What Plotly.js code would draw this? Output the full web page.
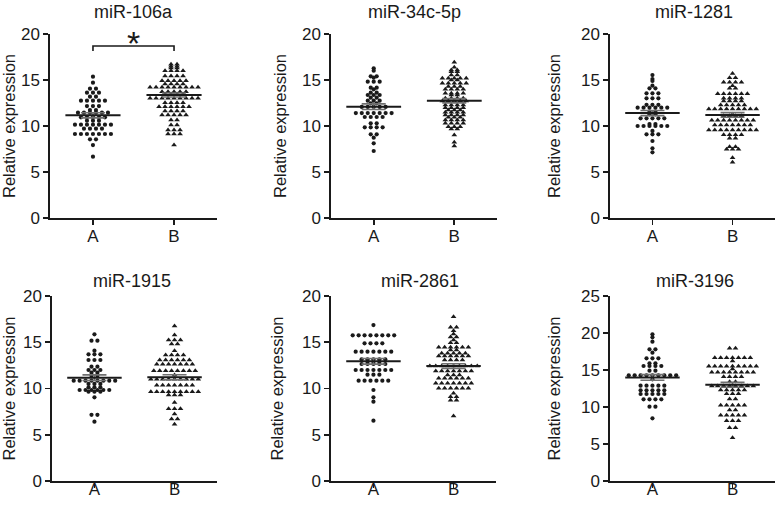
<!DOCTYPE html>
<html>
<head>
<meta charset="utf-8">
<script src="https://cdn.plot.ly/plotly-3.0.1.min.js"></script>
<style>html,body{margin:0;padding:0;background:#fff;}#chart{width:778px;height:505px;}</style>
</head>
<body>
<div id="chart"></div>
<script>
// ---- data ----
const groups = ['A', 'B'];
const panelTitles = ['miR-106a', 'miR-34c-5p', 'miR-1281', 'miR-1915', 'miR-2861', 'miR-3196'];

const a106 = [15.36, 14.71, 14.06, 14.06, 13.62, 13.62, 13.62, 13.19, 13.19, 12.75, 12.75, 12.75, 12.75, 12.75,
  12.17, 12.17, 12.17, 11.74, 11.74, 11.45, 11.45, 11.45, 11.45, 11.45, 11.45, 10.94, 10.94, 10.94, 10.94, 10.94,
  10.58, 10.58, 10.58, 10.14, 10.14, 10.14, 10.14, 10.14, 10.14, 10.14, 9.71, 9.71, 9.71, 9.71,
  9.13, 9.13, 9.13, 9.13, 9.13, 9.13, 9.13, 8.55, 8.55, 7.93, 6.67];
const b106 = [16.7, 16.7, 16.5, 16.5, 16.3, 16.3, 16.01, 16.01, 16.01, 16.01, 15.43, 15.43, 15.43, 15.43,
  14.93, 14.93, 14.93, 14.93, 14.93, 14.57, 14.57, 14.57, 14.57, 14.2, 14.2, 14.2, 14.2, 14.2, 14.2, 14.2, 14.2, 14.2,
  13.73, 13.73, 13.73, 13.73, 13.73, 13.48, 13.48, 13.48, 13.48, 13.01, 13.01, 13.01, 13.01, 13.01, 13.01, 13.01, 13.01, 13.01,
  12.54, 12.54, 12.54, 12.54, 12.1, 12.1, 12.1, 12.1, 12.1, 12.1, 11.63, 11.63, 11.63, 11.63,
  11.2, 11.2, 11.2, 11.2, 11.2, 10.65, 10.65, 10.11, 10.11, 9.57, 9.57, 9.57, 9.13, 9.13, 9.13, 7.93];

const a34 = [16.27, 16.01, 15.4, 15.4, 15.25, 14.82, 14.82, 14.82, 14.17, 14.17, 13.99, 13.62, 13.62,
  13.37, 13.37, 13.37, 13.08, 13.08, 12.75, 12.75, 12.75, 12.46, 12.46, 12.07, 12.07, 12.07, 12.07, 12.07,
  11.41, 11.41, 11.41, 11.41, 11.41, 11.41, 11.41, 10.98, 10.98, 10.98, 10.98, 10.29, 10.29,
  9.86, 9.86, 9.86, 9.86, 9.09, 9.09, 8.73, 8.12, 7.28];
const b34 = [16.92, 16.38, 16.09, 16.09, 15.9, 15.9, 15.54, 15.54, 15.18, 15.18, 15.18, 15.18, 15.18, 15.0, 15.0,
  14.64, 14.64, 14.64, 14.64, 14.64, 14.28, 14.28, 14.28, 13.99, 13.99, 13.99, 13.99, 13.55, 13.55, 13.55, 13.55,
  13.37, 13.37, 13.01, 13.01, 13.01, 13.01, 12.72, 12.72, 12.72, 12.72, 12.72, 12.28, 12.28, 12.28, 12.28,
  11.99, 11.99, 11.99, 11.99, 11.74, 11.74, 11.74, 11.49, 11.49, 11.49, 11.49, 11.2, 11.2, 11.2, 11.2,
  10.94, 10.94, 10.94, 10.65, 10.65, 10.65, 10.65, 10.29, 10.29, 10.29, 10.29, 9.93, 9.93, 9.93, 9.67, 9.67,
  9.02, 8.23, 7.83];

const a1281 = [15.54, 15.11, 14.89, 14.38, 14.1, 14.1, 13.55, 13.55, 13.55, 13.01, 13.01, 13.01, 12.3, 12.3, 12.3,
  11.99, 11.99, 11.99, 11.99, 11.99, 11.99, 11.56, 11.56, 11.27, 11.27, 10.83, 10.83, 10.83, 10.83, 10.83,
  10.22, 10.22, 10.0, 10.0, 10.0, 10.0, 10.0, 10.0, 9.46, 9.09, 9.09, 9.09, 8.37, 7.58, 7.14];
const b1281 = [15.72, 15.25, 15.25, 14.75, 14.75, 14.75, 14.75, 14.38, 14.09, 14.09, 13.51, 13.51, 13.51, 13.51, 13.51, 13.51,
  13.01, 13.01, 13.01, 13.01, 12.72, 12.72, 12.72, 12.72, 12.28, 12.28, 12.28, 12.28, 12.28,
  11.85, 11.85, 11.85, 11.85, 11.85, 11.85, 11.85, 11.85, 11.85, 11.27, 11.12, 11.12, 11.12, 11.12,
  10.62, 10.62, 10.62, 10.62, 10.62, 10.62, 10.62, 10.62, 10.11, 10.11, 10.11, 10.11, 10.11, 10.11, 10.11,
  9.57, 9.57, 9.57, 9.57, 9.57, 9.57, 9.57, 9.57, 9.57, 9.06, 9.06, 9.06, 9.06, 8.66, 8.66,
  7.75, 7.75, 7.46, 7.46, 7.46, 6.56, 6.05];

const a1915 = [15.86, 15.17, 15.17, 14.09, 13.69, 13.69, 13.69, 13.08, 13.08, 13.08, 12.36, 12.36, 12.0, 12.0, 12.0,
  11.71, 11.71, 11.39, 11.39, 10.85, 10.85, 10.85, 10.85, 10.85, 10.85, 10.85, 10.85, 10.49, 10.49, 10.49,
  10.13, 10.13, 10.13, 9.84, 9.84, 9.84, 9.84, 9.84, 9.84, 9.66, 9.66, 9.66, 9.05, 7.15, 7.15, 6.41];
const b1915 = [16.76, 15.78, 15.24, 15.24, 15.24, 14.81, 14.81, 14.09, 13.62, 13.62, 13.62, 13.62,
  13.08, 13.08, 13.08, 13.08, 13.08, 13.08, 12.61, 12.61, 12.61, 12.61, 12.61, 12.61, 12.61,
  11.93, 11.93, 11.93, 11.93, 11.93, 11.93, 11.93, 11.93, 11.46, 10.99, 10.99, 10.99, 10.99, 10.99, 10.99, 10.99, 10.99, 10.99,
  10.34, 10.34, 10.34, 10.34, 10.34, 10.34, 10.34, 9.66, 9.66, 9.66, 9.66, 9.66, 9.66, 9.66, 9.66, 9.66,
  9.3, 9.3, 9.3, 8.5, 7.8, 7.8, 7.8, 7.24, 6.7, 6.7, 6.13];

const a2861 = [16.86, 15.75, 15.75, 15.75, 15.75, 15.75, 15.75, 15.75, 15.75, 14.88, 14.88, 14.88, 14.88,
  13.98, 13.98, 13.98, 13.98, 13.98, 13.98, 13.98, 13.15, 13.15, 13.15, 13.15, 13.15, 12.9, 12.9, 12.9,
  12.65, 12.65, 12.65, 12.65, 12.65, 12.0, 12.0, 12.0, 12.0, 12.0, 12.0, 12.0, 11.5, 11.5, 11.5,
  10.85, 10.85, 10.85, 10.85, 10.85, 10.85, 9.84, 9.05, 8.58, 6.52];
const b2861 = [17.77, 16.61, 16.61, 16.25, 15.89, 15.57, 15.57, 15.24, 14.95, 14.95, 14.45, 14.45, 14.45, 14.45, 14.45, 14.45,
  14.16, 14.16, 13.8, 13.8, 13.8, 13.8, 13.8, 13.51, 13.51, 13.51, 13.51, 13.51, 13.51, 13.08, 13.08, 13.08, 13.08,
  12.43, 12.43, 12.43, 12.43, 12.43, 12.43, 12.43, 12.43, 12.43, 11.89, 11.89, 11.89, 11.89, 11.89, 11.89, 11.89,
  11.46, 11.46, 11.46, 11.1, 11.1, 11.1, 11.1, 11.1, 11.1, 10.56, 10.56, 10.56, 10.56, 10.56, 10.56, 10.56,
  10.02, 10.02, 10.02, 10.02, 10.02, 10.02, 9.48, 9.12, 9.12, 8.72, 8.72, 7.03];

const a3196 = [19.82, 19.41, 18.83, 17.79, 17.79, 17.34, 16.58, 16.58, 16.58, 15.9, 15.9, 15.54, 15.54, 15.54, 15.54,
  14.91, 14.91, 14.28, 14.28, 14.28, 14.28, 14.28, 14.28, 14.28, 14.28, 14.28, 13.74,
  12.88, 12.88, 12.88, 12.88, 12.88, 12.25, 12.25, 12.25, 12.25, 12.25, 11.76, 11.76, 11.76, 11.76, 11.76,
  11.04, 11.04, 11.04, 11.04, 10.04, 10.04, 8.47];
const b3196 = [17.93, 17.93, 16.67, 16.67, 16.67, 16.67, 16.67, 16.67, 16.67, 16.22,
  15.5, 15.5, 15.5, 15.5, 15.5, 15.5, 15.5, 15.5, 15.5, 15.14, 14.68, 14.68, 14.68, 14.68, 14.68, 14.68, 14.68, 14.68,
  14.1, 14.1, 14.1, 14.1, 13.42, 13.42, 12.84, 12.84, 12.84, 12.84, 12.84, 12.84, 12.84, 12.84,
  12.3, 12.3, 12.3, 12.3, 12.3, 11.8, 11.8, 11.8, 11.08, 11.08, 10.23, 10.23, 10.23, 10.23, 10.23,
  9.59, 9.59, 8.88, 8.88, 8.88, 8.88, 8.88, 8.15, 8.15, 8.15, 7.21, 7.21, 5.86];

const valuesA = [a106, a34, a1281, a1915, a2861, a3196];
const valuesB = [b106, b34, b1281, b1915, b2861, b3196];
const meanA = [11.16, 12.1, 11.41, 11.17, 12.94, 14.0];
const meanB = [13.37, 12.75, 11.2, 11.21, 12.43, 13.0];
const semA = [0.28, 0.3, 0.28, 0.3, 0.3, 0.38];
const semB = [0.22, 0.24, 0.25, 0.27, 0.25, 0.33];
const yTickVals = [[0, 5, 10, 15, 20], [0, 5, 10, 15, 20], [0, 5, 10, 15, 20], [0, 5, 10, 15, 20], [0, 5, 10, 15, 20], [0, 5, 10, 15, 20, 25]];
// significance bracket for miR-106a (A vs B)
const sigLabel = '*';
const sigY = 18.7;

// ---- layout geometry ----
const W = 778, H = 505;
const xPx = [[50, 217], [331, 497], [610, 775], [52, 217], [331, 496], [610, 775]];
const yPx = [[34, 218], [34, 218], [34, 218], [296, 481], [296, 481], [296, 481]];
const titlePx = [[133, 12], [414, 12], [694, 12], [132, 281], [420, 281], [695, 281]];
const standoff = [5, 11, 16, 9, 14, 16];
const xLabelShift = [-3, -3, -3, -13, -13, -13];
const FONT = 'Liberation Sans, Arial, Helvetica, sans-serif';
const INK = '#1a1a1a';

function swarm(vals, center, dx) {
  const groupsMap = new Map();
  vals.forEach(v => {
    const k = v.toFixed(2);
    if (!groupsMap.has(k)) groupsMap.set(k, []);
    groupsMap.get(k).push(v);
  });
  const xs = [], ys = [];
  groupsMap.forEach(arr => {
    const n = arr.length;
    arr.forEach((v, i) => { xs.push(center + (i - (n - 1) / 2) * dx); ys.push(v); });
  });
  return { x: xs, y: ys };
}

const traces = [];
const layout = {
  width: W, height: H,
  margin: { l: 0, r: 0, t: 0, b: 0 },
  paper_bgcolor: '#fff', plot_bgcolor: '#fff',
  showlegend: false,
  font: { family: FONT, color: INK, size: 17 },
  annotations: []
};

const dx = 0.074;
for (let p = 0; p < 6; p++) {
  const sfx = p === 0 ? '' : String(p + 1);
  const xa = 'x' + sfx, ya = 'y' + sfx;
  const sa = swarm(valuesA[p], 0, dx);
  const sb = swarm(valuesB[p], 1, dx);
  traces.push({ type: 'scatter', mode: 'markers', x: sa.x, y: sa.y, xaxis: xa, yaxis: ya, cliponaxis: false,
    marker: { symbol: 'circle', size: 4.2, color: INK }, hoverinfo: 'y' });
  traces.push({ type: 'scatter', mode: 'markers', x: sb.x, y: sb.y, xaxis: xa, yaxis: ya, cliponaxis: false,
    marker: { symbol: 'triangle-up', size: 5, color: INK }, hoverinfo: 'y' });
  // SEM error bars
  traces.push({ type: 'scatter', mode: 'markers', x: [0, 1], y: [meanA[p], meanB[p]], xaxis: xa, yaxis: ya,
    marker: { size: 1, color: 'rgba(0,0,0,0)' }, cliponaxis: false,
    error_y: { type: 'data', array: [semA[p], semB[p]], color: '#707070', thickness: 1.6, width: 12 }, hoverinfo: 'skip' });
  // mean lines
  traces.push({ type: 'scatter', mode: 'lines', x: [-0.34, 0.34, null, 0.66, 1.34], y: [meanA[p], meanA[p], null, meanB[p], meanB[p]],
    xaxis: xa, yaxis: ya, line: { color: INK, width: 2 }, hoverinfo: 'skip', cliponaxis: false });

  const yMax = yTickVals[p][yTickVals[p].length - 1];
  layout['xaxis' + sfx] = {
    domain: [xPx[p][0] / W, xPx[p][1] / W], anchor: ya,
    range: [-0.53, 1.53], tickvals: [0, 1], ticktext: groups,
    showline: true, linecolor: INK, linewidth: 1.6, ticks: 'outside', ticklen: 5, tickwidth: 1.6, tickcolor: INK,
    ticklabelstandoff: xLabelShift[p],
    showgrid: false, zeroline: false, fixedrange: true, tickfont: { size: 17, family: FONT, color: INK }
  };
  layout['yaxis' + sfx] = {
    domain: [1 - yPx[p][1] / H, 1 - yPx[p][0] / H], anchor: xa,
    range: [0, yMax], tickvals: yTickVals[p],
    showline: true, linecolor: INK, linewidth: 1.6, ticks: 'outside', ticklen: 5, tickwidth: 1.6, tickcolor: INK,
    showgrid: false, zeroline: false, fixedrange: true, tickfont: { size: 17, family: FONT, color: INK },
    title: { text: 'Relative expression', font: { size: 16.5, family: FONT, color: INK }, standoff: standoff[p] }
  };
  layout.annotations.push({
    text: panelTitles[p], xref: 'paper', yref: 'paper', x: titlePx[p][0] / W, y: 1 - titlePx[p][1] / H,
    xanchor: 'center', yanchor: 'middle', showarrow: false, font: { size: 18, family: FONT, color: INK }
  });
}

// significance bracket
traces.push({ type: 'scatter', mode: 'lines', x: [0, 0, 1, 1], y: [sigY - 0.55, sigY, sigY, sigY - 0.55],
  xaxis: 'x', yaxis: 'y', line: { color: INK, width: 1.6 }, cliponaxis: false, hoverinfo: 'skip' });
layout.annotations.push({ text: sigLabel, xref: 'x', yref: 'y', x: 0.5, y: sigY, xanchor: 'center', yanchor: 'middle',
  yshift: 3, showarrow: false, font: { size: 34, family: FONT, color: INK } });

Plotly.newPlot('chart', traces, layout, { displayModeBar: false, staticPlot: true });
</script>
</body>
</html>
